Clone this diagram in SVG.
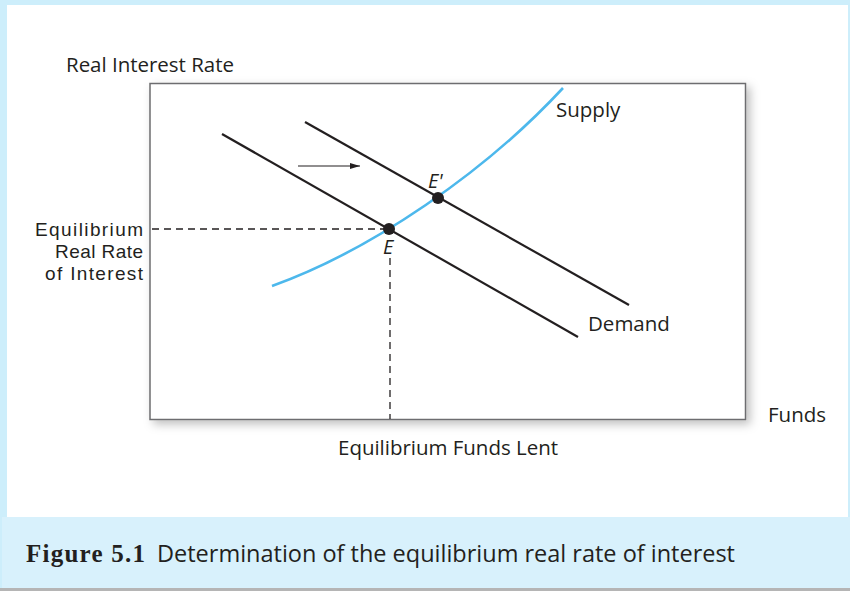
<svg xmlns="http://www.w3.org/2000/svg" width="850" height="591" viewBox="0 0 850 591">
<defs>
<style>
.t{font-family:"Open Sans","Noto Sans","Liberation Sans",sans-serif;font-size:20.5px;fill:#231f20}
.eq{font-family:"Liberation Sans",Arial,sans-serif;font-size:19px;fill:#231f20}
.it{font-style:italic;font-size:20px}
.cap{font-size:23.5px}
.dem{stroke:#231f20;stroke-width:2.2;fill:none}
.dash{stroke:#231f20;stroke-width:1.3;stroke-dasharray:7,5;fill:none}
</style>
<filter id="sh" x="-5%" y="-5%" width="115%" height="120%">
<feDropShadow dx="4" dy="4" stdDeviation="5" flood-color="#000" flood-opacity="0.25"/>
</filter>
<marker id="ah" viewBox="0 0 10 6" refX="10" refY="3" markerWidth="10" markerHeight="6" markerUnits="userSpaceOnUse" orient="auto">
<path d="M0,0 L10,3 L0,6 Z" fill="#231f20"/>
</marker>
</defs>
<rect x="0" y="0" width="850" height="591" fill="#cdeefb"/>
<rect x="7" y="5" width="841" height="512" fill="#ffffff"/>
<rect x="2" y="517" width="848" height="71" fill="#d8f1fc"/>
<rect x="0" y="588" width="850" height="3" fill="#b5b5b5"/>
<g id="plot">
<rect x="150" y="83.5" width="595.5" height="336" fill="#ffffff" stroke="#6d6d6f" stroke-width="1.5" filter="url(#sh)"/>
</g>
<g id="connectors">
<path class="dash" d="M152,229 H389"/>
<path class="dash" d="M390,258 V419"/>
<path d="M298,166 H360" stroke="#231f20" stroke-width="1.2" marker-end="url(#ah)"/>
</g>
<g id="demand1"><path class="dem" d="M222,134 L578,337"/></g>
<g id="demand2"><path class="dem" d="M305,122 L629,305"/></g>
<g id="supply"><path d="M272,286 C372,250 485,172 563,88" stroke="#4db8ec" stroke-width="2.6" fill="none"/></g>
<g id="pointE"><circle cx="389" cy="229" r="6" fill="#231f20"/></g>
<g id="pointE2"><circle cx="438" cy="198" r="6" fill="#231f20"/></g>
<g id="labels">
<text class="t" x="66" y="72" textLength="168">Real Interest Rate</text>
<text class="eq" x="143" y="236" text-anchor="end" textLength="108">Equilibrium</text>
<text class="eq" x="143" y="258" text-anchor="end" textLength="88">Real Rate</text>
<text class="eq" x="143" y="280" text-anchor="end" textLength="98">of Interest</text>
<text class="t" x="556" y="117">Supply</text>
<text class="t" x="588" y="331">Demand</text>
<text class="t" x="768" y="422">Funds</text>
<text class="t" x="338" y="455" textLength="220">Equilibrium Funds Lent</text>
<text class="t it" x="383" y="254">E</text>
<text class="t it" x="428" y="188">E'</text>
<text x="26" y="562" font-family="'Liberation Serif',serif" font-weight="bold" font-size="25" fill="#231f20" textLength="119">Figure 5.1</text>
<text class="t cap" x="157" y="562" textLength="578">Determination of the equilibrium real rate of interest</text>
</g>
</svg>
